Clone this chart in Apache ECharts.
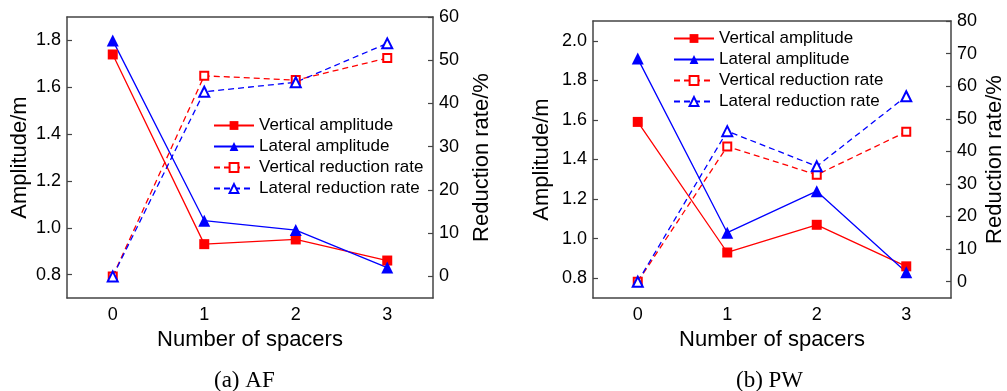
<!DOCTYPE html>
<html>
<head>
<meta charset="utf-8">
<script src="https://cdn.jsdelivr.net/npm/echarts@6/dist/echarts.min.js"></script>
<style>
html,body{margin:0;padding:0;background:#fff;}
#chart{width:1007px;height:391px;}
</style>
</head>
<body>
<div id="chart"></div>
<script>
const categories = ['0', '1', '2', '3'];
const seriesNames = ['Vertical amplitude', 'Lateral amplitude', 'Vertical reduction rate', 'Lateral reduction rate'];
// (a) AF
const afVerticalAmp = [1.74, 0.93, 0.95, 0.86];
const afLateralAmp = [1.80, 1.03, 0.99, 0.83];
const afVerticalRate = [0, 46.4, 45.4, 50.5];
const afLateralRate = [0, 42.7, 44.9, 53.9];
// (b) PW
const pwVerticalAmp = [1.59, 0.93, 1.07, 0.86];
const pwLateralAmp = [1.91, 1.03, 1.24, 0.83];
const pwVerticalRate = [0, 41.5, 32.8, 46.0];
const pwLateralRate = [0, 46.2, 35.4, 56.9];
// tick labels
const afAmpTicks = [0.8, 1.0, 1.2, 1.4, 1.6, 1.8];
const afRateTicks = [0, 10, 20, 30, 40, 50, 60];
const pwAmpTicks = [0.8, 1.0, 1.2, 1.4, 1.6, 1.8, 2.0];
const pwRateTicks = [0, 10, 20, 30, 40, 50, 60, 70, 80];
const captions = ['(a) AF', '(b) PW'];
const xName = 'Number of spacers';
const yLeftName = 'Amplitude/m';
const yRightName = 'Reduction rate/%';

const FONT = '"Liberation Sans", Arial, sans-serif';
const AX = '#444';
const RED = '#ff0000';
const BLUE = '#0000ff';

function xAxes(gridIndex) {
  return [
    {
      type: 'category', gridIndex, data: categories, position: 'bottom',
      name: xName, nameLocation: 'middle', nameGap: 28,
      nameTextStyle: { fontFamily: FONT, fontSize: 22, color: '#000' },
      axisLine: { onZero: false, lineStyle: { color: AX, width: 1.5 } },
      axisTick: { inside: true, alignWithLabel: true, length: 5, lineStyle: { color: AX, width: 1.2 } },
      axisLabel: { fontFamily: FONT, fontSize: 18, color: '#000', margin: 8 },
      splitLine: { show: false }
    },
    {
      type: 'category', gridIndex, data: categories, position: 'top',
      axisLine: { onZero: false, lineStyle: { color: AX, width: 1.5 } },
      axisTick: { inside: true, alignWithLabel: true, length: 5, lineStyle: { color: AX, width: 1.2 } },
      axisLabel: { show: false },
      splitLine: { show: false }
    }
  ];
}

function yAxes(gridIndex, lmin, lmax, lticks, rmin, rmax, rticks, lgap, rgap) {
  return [
    {
      type: 'value', gridIndex, position: 'left', min: lmin, max: lmax,
      name: yLeftName, nameLocation: 'middle', nameGap: lgap, nameRotate: 90,
      nameTextStyle: { fontFamily: FONT, fontSize: 22, color: '#000' },
      axisLine: { show: true, onZero: false, lineStyle: { color: AX, width: 1.5 } },
      axisTick: { show: true, inside: true, length: 5, customValues: lticks, lineStyle: { color: AX, width: 1.2 } },
      axisLabel: {
        fontFamily: FONT, fontSize: 18, color: '#000', margin: 6, customValues: lticks,
        formatter: v => Number(v).toFixed(1)
      },
      splitLine: { show: false }
    },
    {
      type: 'value', gridIndex, position: 'right', min: rmin, max: rmax,
      name: yRightName, nameLocation: 'middle', nameGap: rgap, nameRotate: 90,
      nameTextStyle: { fontFamily: FONT, fontSize: 22, color: '#000' },
      axisLine: { show: true, onZero: false, lineStyle: { color: AX, width: 1.5 } },
      axisTick: { show: true, inside: true, length: 5, customValues: rticks, lineStyle: { color: AX, width: 1.2 } },
      axisLabel: {
        fontFamily: FONT, fontSize: 18, color: '#000', margin: 6, customValues: rticks,
        formatter: v => String(Math.round(v))
      },
      splitLine: { show: false }
    }
  ];
}

function makeSeries(xi, yl, yr, vA, lA, vR, lR) {
  const base = { type: 'line', xAxisIndex: xi, z: 3 };
  return [
    Object.assign({}, base, { name: seriesNames[0], yAxisIndex: yl, data: vA, symbol: 'rect', symbolSize: 10,
      lineStyle: { color: RED, width: 1.3 }, itemStyle: { color: RED } }),
    Object.assign({}, base, { name: seriesNames[1], yAxisIndex: yl, data: lA, symbol: 'triangle', symbolSize: 12,
      lineStyle: { color: BLUE, width: 1.3 }, itemStyle: { color: BLUE } }),
    Object.assign({}, base, { name: seriesNames[2], yAxisIndex: yr, data: vR, symbol: 'emptyRect', symbolSize: 8,
      lineStyle: { color: RED, width: 1.3, type: [6, 4] }, itemStyle: { color: RED, borderColor: RED, borderWidth: 1.6 } }),
    Object.assign({}, base, { name: seriesNames[3], yAxisIndex: yr, data: lR, symbol: 'emptyTriangle', symbolSize: 10,
      lineStyle: { color: BLUE, width: 1.3, type: [6, 4] }, itemStyle: { color: BLUE, borderColor: BLUE, borderWidth: 1.6 } })
  ];
}

const legendCommon = {
  orient: 'vertical', itemWidth: 40, itemHeight: 11, itemGap: 4,
  textStyle: { fontFamily: FONT, fontSize: 17, color: '#000', lineHeight: 17 },
  data: seriesNames, selectedMode: false, padding: 0
};

const chart = echarts.init(document.getElementById('chart'), null, { renderer: 'canvas' });
chart.setOption({
  backgroundColor: '#fff',
  animation: false,
  grid: [
    { left: 67, top: 17, width: 366, height: 281, containLabel: false },
    { left: 593, top: 21, width: 362, height: 277, containLabel: false }
  ],
  xAxis: xAxes(0).concat(xAxes(1)),
  yAxis: yAxes(0, 0.7, 1.9, afAmpTicks, -5, 60, afRateTicks, 36, 38)
    .concat(yAxes(1, 0.7, 2.1, pwAmpTicks, -5, 80, pwRateTicks, 40, 33)),
  legend: [
    Object.assign({}, legendCommon, { left: 213, top: 117 }),
    Object.assign({}, legendCommon, { left: 673, top: 30 })
  ],
  series: makeSeries(0, 0, 1, afVerticalAmp, afLateralAmp, afVerticalRate, afLateralRate)
    .concat(makeSeries(2, 2, 3, pwVerticalAmp, pwLateralAmp, pwVerticalRate, pwLateralRate)),
  graphic: [
    { type: 'text', left: 214, top: 369, style: { text: captions[0], font: '23px "Liberation Serif", "Times New Roman", serif', fill: '#000' } },
    { type: 'text', left: 736, top: 369, style: { text: captions[1], font: '23px "Liberation Serif", "Times New Roman", serif', fill: '#000' } }
  ]
});
</script>
</body>
</html>
